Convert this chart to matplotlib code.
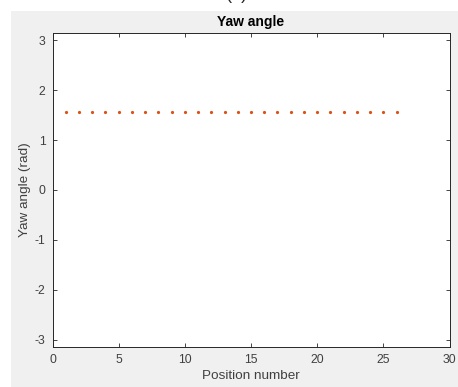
import numpy as np
import matplotlib
matplotlib.use("Agg")
import matplotlib.pyplot as plt
from matplotlib.patches import Rectangle

plt.rcParams['font.family'] = ['Liberation Sans', 'DejaVu Sans']
plt.rcParams['axes.unicode_minus'] = False

# Data
positions = list(range(1, 27))
yaw = [1.5708] * 26
xticks = [0, 5, 10, 15, 20, 25, 30]
yticks = [-3, -2, -1, 0, 1, 2, 3]

W, H = 458, 387
fig = plt.figure(figsize=(W / 100, H / 100), dpi=100, facecolor='white')
bg = Rectangle((11 / W, 0), 1 - 11 / W, 1 - 11 / H,
               transform=fig.transFigure, facecolor='#F0F0F0',
               edgecolor='none', zorder=-10)
fig.add_artist(bg)
fig.text(237 / W, 1.0 + 1 / H, '(a)', ha='center', va='baseline', fontsize=13, color='#262626')

left, right = 52.5 / W, 449.5 / W
top, bottom = 1 - 33.3 / H, 1 - 346.7 / H
ax = fig.add_axes([left, bottom, right - left, top - bottom])
ax.set_zorder(1)
ax.set_facecolor('white')

ax.plot(positions, yaw, linestyle='none', marker='o', markersize=2.3,
        markerfacecolor='#D95319', markeredgecolor='none')

ax.set_xlim(0, 30)
ax.set_ylim(-np.pi, np.pi)
ax.set_xticks(xticks)
ax.set_yticks(yticks)
ax.tick_params(direction='in', top=True, right=True, length=3, width=0.6,
               colors='#262626', labelsize=8.8, pad=5)
for t in ax.get_xticklabels() + ax.get_yticklabels():
    t.set_color('#404040')
for s in ax.spines.values():
    s.set_color('#262626')
    s.set_linewidth(0.7)

ax.set_title('Yaw angle', fontsize=10, fontweight='bold', color='#000000', pad=5)
ax.set_xlabel('Position number', fontsize=9.7, color='#404040', labelpad=3)
ax.set_ylabel('Yaw angle (rad)', fontsize=9.7, color='#404040', labelpad=3)

fig.savefig('out.png', dpi=100, facecolor=fig.get_facecolor())
